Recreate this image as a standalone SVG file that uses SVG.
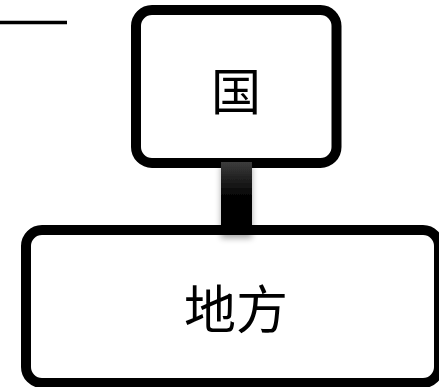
<svg xmlns="http://www.w3.org/2000/svg" width="439" height="387" viewBox="0 0 439 387">
  <defs>
    <linearGradient id="connGrad" x1="0" y1="0" x2="0" y2="1">
      <stop offset="0" stop-color="#3c3c3c"/>
      <stop offset="0.5" stop-color="#000"/>
      <stop offset="1" stop-color="#000"/>
    </linearGradient>
    <filter id="shadow" x="-50%" y="-20%" width="200%" height="160%">
      <feGaussianBlur in="SourceAlpha" stdDeviation="3"/>
      <feOffset dx="0" dy="3" result="b"/>
      <feComponentTransfer><feFuncA type="linear" slope="0.35"/></feComponentTransfer>
      <feMerge><feMergeNode/><feMergeNode in="SourceGraphic"/></feMerge>
    </filter>
  </defs>
  <style>
    .box { fill: #fff; stroke: #000; stroke-width: 10; }
    .label { font-family: "Noto Sans CJK SC", "Noto Sans CJK JP", sans-serif; fill: #000; text-anchor: middle; }
  </style>
  <rect width="439" height="387" fill="#fff"/>
  <line x1="0" y1="22.5" x2="67" y2="22.5" stroke="#000" stroke-width="3.5"/>
  <g id="node-guo">
    <rect class="box" x="136" y="10" width="200.5" height="153" rx="16" ry="16"/>
    <text class="label" x="236" y="110" font-size="50">国</text>
  </g>
  <g id="node-chihou">
    <rect class="box" x="26" y="230" width="413" height="153" rx="16" ry="16"/>
    <text class="label" x="236" y="329" font-size="52">地方</text>
  </g>
  <g id="connectors">
    <rect x="221" y="162" width="31" height="73" fill="url(#connGrad)" filter="url(#shadow)"/>
  </g>
</svg>
